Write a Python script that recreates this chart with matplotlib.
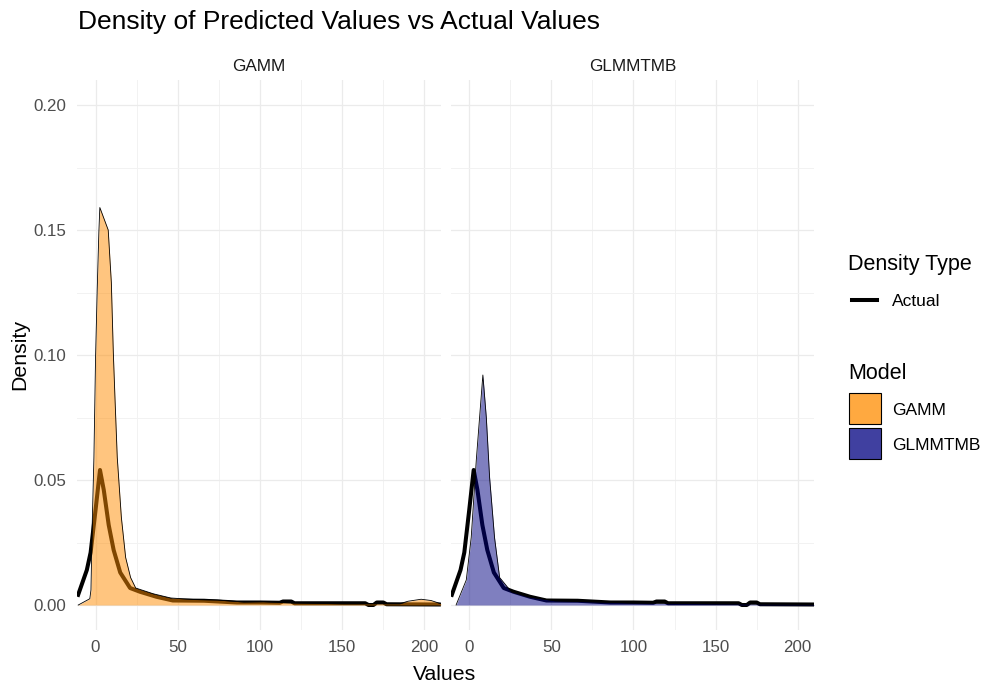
import matplotlib
matplotlib.use("Agg")
import matplotlib.pyplot as plt
from matplotlib.lines import Line2D
from matplotlib.patches import Rectangle

plt.rcParams['font.family'] = ['Liberation Sans', 'DejaVu Sans']

# Density of the observed (actual) values, shared by both facets
actual_x = [-11, -5.3, -3, 0, 2.7, 5, 8, 11, 15, 21, 27, 37, 47, 66, 86, 100,
            112, 114, 119, 121, 164, 166, 169, 171, 175, 177, 210]
actual_y = [0.0033, 0.014, 0.021, 0.038, 0.054, 0.046, 0.032, 0.022, 0.013,
            0.0068, 0.0053, 0.0033, 0.0018, 0.0017, 0.0010, 0.0010, 0.0009,
            0.0014, 0.0014, 0.0007, 0.0007, 0.0, 0.0, 0.0010, 0.0010, 0.0003,
            0.0002]

# Density of GAMM predictions
gamm_x = [-10.5, -3.5, -2.8, -2, -1, 0, 1, 2, 2.6, 7.7, 9.6, 10.8, 11.8, 13.2,
          15.7, 18.3, 21.3, 24.4, 35, 45.7, 60, 74, 90, 102, 120, 150, 185,
          190, 198, 204, 210]
gamm_y = [0.0, 0.0025, 0.006, 0.033, 0.059, 0.099, 0.126, 0.149, 0.159, 0.150,
          0.129, 0.101, 0.083, 0.059, 0.035, 0.019, 0.011, 0.0068, 0.0045,
          0.0028, 0.0022, 0.0020, 0.0012, 0.0013, 0.0008, 0.0005, 0.0005,
          0.0015, 0.0023, 0.0018, 0.0005]

# Density of glmmTMB predictions
glmm_x = [-8, -1.8, 1.2, 4.3, 6.3, 8.3, 10.4, 12.4, 15.4, 18.5, 25.6, 35.8, 52,
          74, 100, 150, 200, 210]
glmm_y = [0.0, 0.010, 0.027, 0.058, 0.075, 0.092, 0.075, 0.051, 0.027, 0.011,
          0.0053, 0.0033, 0.0017, 0.0013, 0.0008, 0.0005, 0.0003, 0.0002]

models = ["GAMM", "GLMMTMB"]
model_colors = {"GAMM": "#FF8C00", "GLMMTMB": "#000080"}
predicted = {"GAMM": (gamm_x, gamm_y), "GLMMTMB": (glmm_x, glmm_y)}

x_ticks = [0, 50, 100, 150, 200]
y_ticks = [0.00, 0.05, 0.10, 0.15, 0.20]
y_tick_labels = ["0.00", "0.05", "0.10", "0.15", "0.20"]

W, H = 985, 687
fig = plt.figure(figsize=(W / 100, H / 100), dpi=100)


def fx(px):
    return px / W


def fy(py):
    return 1 - py / H


panel_left = [77.3, 451.0]
panel_right = [440.7, 814.0]
panel_top, panel_bottom = 80.0, 630.0

for i, model in enumerate(models):
    ax = fig.add_axes([fx(panel_left[i]), fy(panel_bottom),
                       (panel_right[i] - panel_left[i]) / W,
                       (panel_bottom - panel_top) / H])
    ax.set_xlim(-11.1, 209.9)
    ax.set_ylim(-0.01, 0.21)
    for s in ax.spines.values():
        s.set_visible(False)
    ax.set_xticks(x_ticks)
    ax.set_xticks([25, 75, 125, 175], minor=True)
    ax.set_yticks(y_ticks)
    ax.set_yticks([0.025, 0.075, 0.125, 0.175], minor=True)
    ax.grid(which='major', color='#EBEBEB', linewidth=0.9)
    ax.grid(which='minor', color='#F2F2F2', linewidth=0.7)
    ax.set_axisbelow(True)
    ax.tick_params(which='both', length=0, labelsize=12.2, labelcolor='#4D4D4D')
    ax.tick_params(axis='x', pad=7)
    ax.tick_params(axis='y', pad=8)
    if i == 0:
        ax.set_yticklabels(y_tick_labels)
    else:
        ax.set_yticklabels([])

    # observed density line sits beneath the translucent prediction fill
    ax.plot(actual_x, actual_y, color='black', linewidth=2.9, zorder=2,
            solid_joinstyle='round', solid_capstyle='butt')
    px_, py_ = predicted[model]
    ax.fill_between(px_, py_, 0, color=model_colors[model], alpha=0.5,
                    linewidth=0, zorder=3)
    ax.plot(px_, py_, color='black', linewidth=0.6, zorder=4)

    # facet strip label
    fig.text(fx((panel_left[i] + panel_right[i]) / 2), fy(70.7), model,
             ha='center', va='baseline', fontsize=12.3, color='#1A1A1A')

# title and axis titles
fig.text(fx(78), fy(29.5), "Density of Predicted Values vs Actual Values",
         ha='left', va='baseline', fontsize=19, color='black')
fig.text(fx(445), fy(680), "Values", ha='center', va='baseline',
         fontsize=15.3, color='black')
fig.text(fx(19.5), fy(355), "Density", ha='center', va='center',
         rotation=90, fontsize=15.3, color='black')

# legend: Density Type
fig.text(fx(848.3), fy(270), "Density Type", ha='left', va='baseline',
         fontsize=15.5, color='black')
fig.add_artist(Line2D([fx(851.7), fx(876.7)], [fy(300), fy(300)],
                      color='black', linewidth=2.9, transform=fig.transFigure))
fig.text(fx(891.7), fy(300), "Actual", ha='left', va='center_baseline',
         fontsize=12.5, color='black')

# legend: Model
fig.text(fx(848.3), fy(379.3), "Model", ha='left', va='baseline',
         fontsize=15.5, color='black')
key_tops = [393.3, 428.3]
for model, top in zip(models, key_tops):
    fig.add_artist(Rectangle((fx(849), fy(top + 31)), 32 / W, 31 / H,
                             facecolor=model_colors[model], alpha=0.75,
                             edgecolor='none', transform=fig.transFigure))
    fig.add_artist(Rectangle((fx(849), fy(top + 31)), 32 / W, 31 / H,
                             facecolor='none', edgecolor='black',
                             linewidth=0.8, transform=fig.transFigure))
    fig.text(fx(891.7), fy(top + 15.5), model, ha='left', va='center_baseline',
             fontsize=12.5, color='black')

fig.savefig("out.png", dpi=100, facecolor='white')
